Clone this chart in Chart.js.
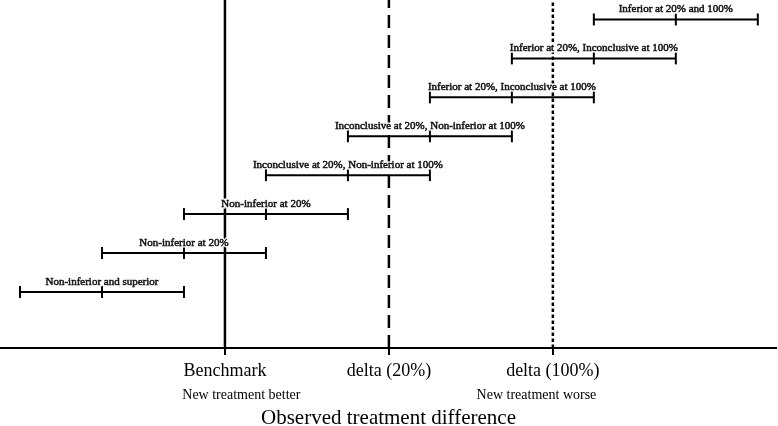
<!DOCTYPE html>
<html>
<head>
<meta charset="utf-8">
<script src="https://cdn.jsdelivr.net/npm/chart.js@4.4.0/dist/chart.umd.min.js"></script>
<style>
html,body{margin:0;padding:0;background:#fff;}
#wrap{width:778px;height:426px;}
</style>
</head>
<body>
<div id="wrap"><canvas id="c" width="778" height="426"></canvas></div>
<script>
// Row positions (bottom to top)
const rows = [1, 2, 3, 4, 5, 6, 7, 8];
// Interval lower bound, point estimate, upper bound (x units)
const lower = [0, 1, 2, 3, 4, 5, 6, 7];
const estimate = [1, 2, 3, 4, 5, 6, 7, 8];
const upper = [2, 3, 4, 5, 6, 7, 8, 9];
const rowLabels = [
  "Non-inferior and superior",
  "Non-inferior at 20%",
  "Non-inferior at 20%",
  "Inconclusive at 20%, Non-inferior at 100%",
  "Inconclusive at 20%, Non-inferior at 100%",
  "Inferior at 20%, Inconclusive at 100%",
  "Inferior at 20%, Inconclusive at 100%",
  "Inferior at 20% and 100%"
];
// Reference lines
const refValues = [2.5, 4.5, 6.5];
const refLabels = ["Benchmark", "delta (20%)", "delta (100%)"];
const refStyles = ["solid", "dashed", "dotted"];
// Direction labels
const dirValues = [2.7, 6.3];
const dirLabels = ["New treatment better", "New treatment worse"];
const xTitle = "Observed treatment difference";

const X_MIN = -0.232, X_MAX = 9.222;
const Y_MIN = -0.44, Y_MAX = 8.5;
const SERIF = "'Liberation Serif', 'Times New Roman', serif";

const datasets = [];
refValues.forEach((v, i) => {
  datasets.push({
    type: 'line',
    data: [{x: v, y: Y_MIN}, {x: v, y: Y_MAX}],
    borderColor: '#000',
    borderWidth: 2.5,
    borderDash: refStyles[i] === 'dashed' ? [13, 7] : (refStyles[i] === 'dotted' ? [3.5, 2.5] : []),
    pointRadius: 0,
    showLine: true,
    fill: false,
    xAxisID: 'x', yAxisID: 'y'
  });
});
rows.forEach((r, i) => {
  datasets.push({
    type: 'line',
    data: [{x: lower[i], y: r}, {x: estimate[i], y: r}, {x: upper[i], y: r}],
    borderColor: '#000',
    borderWidth: 2,
    pointStyle: 'line',
    rotation: 90,
    pointRadius: 6,
    pointBorderWidth: 2,
    pointBorderColor: '#000',
    showLine: true,
    fill: false,
    xAxisID: 'x', yAxisID: 'y'
  });
});

const labelPlugin = {
  id: 'rowLabels',
  afterDatasetsDraw(chart) {
    const ctx = chart.ctx;
    const xs = chart.scales.x, ys = chart.scales.y;
    ctx.save();
    ctx.font = "11px " + SERIF;
    ctx.textAlign = 'center';
    ctx.textBaseline = 'alphabetic';
    rows.forEach((r, i) => {
      const px = xs.getPixelForValue(estimate[i]);
      const py = ys.getPixelForValue(r) - 7;
      ctx.lineWidth = 3;
      ctx.strokeStyle = '#fff';
      ctx.strokeText(rowLabels[i], px, py);
      ctx.fillStyle = '#111';
      ctx.fillText(rowLabels[i], px, py);
      ctx.lineWidth = 0.5;
      ctx.strokeStyle = '#111';
      ctx.strokeText(rowLabels[i], px, py);
    });
    ctx.restore();
  }
};

new Chart(document.getElementById('c'), {
  type: 'scatter',
  data: { datasets },
  options: {
    responsive: false,
    animation: false,
    devicePixelRatio: 1,
    layout: { autoPadding: false, padding: { left: 1, right: 2, top: 0, bottom: 0 } },
    plugins: { legend: { display: false }, tooltip: { enabled: false } },
    scales: {
      y: {
        type: 'linear', min: Y_MIN, max: Y_MAX, display: false
      },
      x: {
        type: 'linear', position: 'bottom', min: X_MIN, max: X_MAX,
        afterBuildTicks(s) { s.ticks = refValues.map(v => ({value: v})); },
        afterFit(s) { s.height = 33; },
        ticks: {
          callback(v) { const i = refValues.indexOf(v); return i >= 0 ? refLabels[i] : ''; },
          color: '#000', font: { family: SERIF, size: 18 }, padding: 5, maxRotation: 0, autoSkip: false
        },
        grid: { drawOnChartArea: false, drawTicks: true, tickLength: 7, color: '#000', lineWidth: 2 },
        border: { display: true, color: '#000', width: 2 }
      },
      x2: {
        type: 'linear', position: 'bottom', min: X_MIN, max: X_MAX,
        afterBuildTicks(s) { s.ticks = dirValues.map(v => ({value: v})); },
        afterFit(s) { s.height = 45; },
        ticks: {
          callback(v) { const i = dirValues.indexOf(v); return i >= 0 ? dirLabels[i] : ''; },
          color: '#000', font: { family: SERIF, size: 14 }, padding: 6, maxRotation: 0, autoSkip: false
        },
        grid: { display: false, drawTicks: false },
        border: { display: false },
        title: { display: true, text: xTitle, color: '#000', font: { family: SERIF, size: 21 }, padding: { top: 0, bottom: -5 } }
      }
    }
  },
  plugins: [labelPlugin]
});
</script>
</body>
</html>
